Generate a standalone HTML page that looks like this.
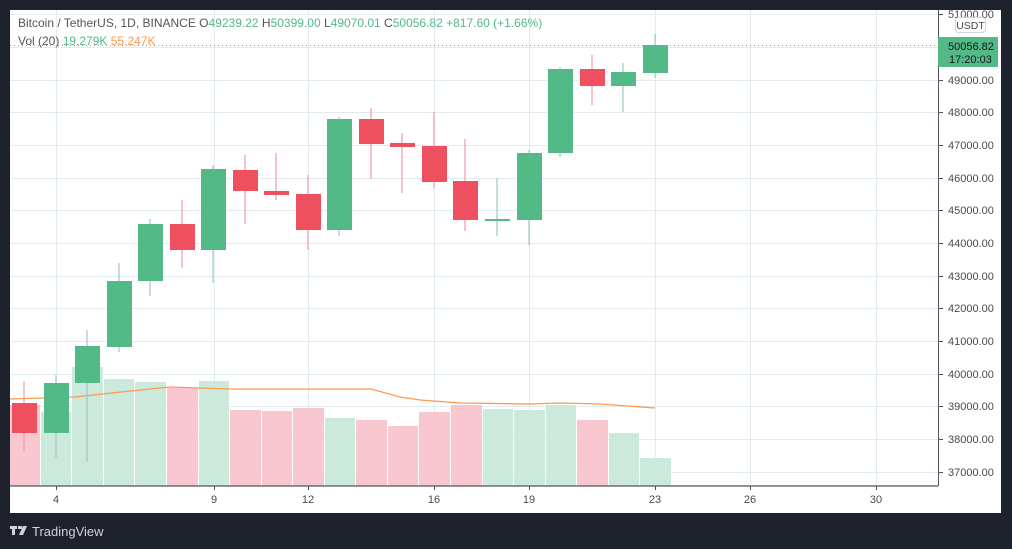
<!DOCTYPE html>
<html><head><style>
html,body{margin:0;padding:0;background:#1e222d;width:1012px;height:549px;overflow:hidden;font-family:"Liberation Sans","DejaVu Sans",sans-serif}
</style></head><body>
<svg width="1012" height="549" xmlns="http://www.w3.org/2000/svg" style="position:absolute;left:0;top:0">
<rect x="0" y="0" width="1012" height="549" fill="#1e222d"/>
<rect x="10" y="10" width="991" height="503" fill="#ffffff"/>
<g stroke="#e1ecf2" stroke-width="1">
<line x1="10" x2="938" y1="14.5" y2="14.5"/><line x1="10" x2="938" y1="47.5" y2="47.5"/><line x1="10" x2="938" y1="80.5" y2="80.5"/><line x1="10" x2="938" y1="112.5" y2="112.5"/><line x1="10" x2="938" y1="145.5" y2="145.5"/><line x1="10" x2="938" y1="178.5" y2="178.5"/><line x1="10" x2="938" y1="210.5" y2="210.5"/><line x1="10" x2="938" y1="243.5" y2="243.5"/><line x1="10" x2="938" y1="276.5" y2="276.5"/><line x1="10" x2="938" y1="308.5" y2="308.5"/><line x1="10" x2="938" y1="341.5" y2="341.5"/><line x1="10" x2="938" y1="374.5" y2="374.5"/><line x1="10" x2="938" y1="406.5" y2="406.5"/><line x1="10" x2="938" y1="439.5" y2="439.5"/><line x1="10" x2="938" y1="472.5" y2="472.5"/>
<line y1="10" y2="486" x1="56.5" x2="56.5"/><line y1="10" y2="486" x1="214.5" x2="214.5"/><line y1="10" y2="486" x1="308.5" x2="308.5"/><line y1="10" y2="486" x1="434.5" x2="434.5"/><line y1="10" y2="486" x1="529.5" x2="529.5"/><line y1="10" y2="486" x1="655.5" x2="655.5"/><line y1="10" y2="486" x1="750.5" x2="750.5"/><line y1="10" y2="486" x1="876.5" x2="876.5"/>
</g>
<!-- volume -->
<g>
<rect x="10" y="405" width="30" height="81" fill="#f8c7cf"/>
<rect x="41" y="412" width="30" height="74" fill="#cbeadb"/>
<rect x="72" y="367" width="31" height="119" fill="#cbeadb"/>
<rect x="104" y="379" width="30" height="107" fill="#cbeadb"/>
<rect x="135" y="382" width="31" height="104" fill="#cbeadb"/>
<rect x="167" y="388" width="31" height="98" fill="#f8c7cf"/>
<rect x="199" y="381" width="30" height="105" fill="#cbeadb"/>
<rect x="230" y="410" width="31" height="76" fill="#f8c7cf"/>
<rect x="262" y="411" width="30" height="75" fill="#f8c7cf"/>
<rect x="293" y="408" width="31" height="78" fill="#f8c7cf"/>
<rect x="325" y="418" width="30" height="68" fill="#cbeadb"/>
<rect x="356" y="420" width="31" height="66" fill="#f8c7cf"/>
<rect x="388" y="426" width="30" height="60" fill="#f8c7cf"/>
<rect x="419" y="412" width="31" height="74" fill="#f8c7cf"/>
<rect x="451" y="405" width="31" height="81" fill="#f8c7cf"/>
<rect x="483" y="409" width="30" height="77" fill="#cbeadb"/>
<rect x="514" y="410" width="31" height="76" fill="#cbeadb"/>
<rect x="546" y="405" width="30" height="81" fill="#cbeadb"/>
<rect x="577" y="420" width="31" height="66" fill="#f8c7cf"/>
<rect x="609" y="433" width="30" height="53" fill="#cbeadb"/>
<rect x="640" y="458" width="31" height="28" fill="#cbeadb"/>
</g>
<polyline fill="none" stroke="#ff9850" stroke-width="1.3" points="10,399 75,397 130,391 170,387 230,389 300,389 371,389 400,397 420,400 460,403 530,404 560,403 600,404 655,408"/>
<!-- current price dotted line -->
<line x1="10" x2="938" y1="45.5" y2="45.5" stroke="#53b987" stroke-width="1" stroke-dasharray="1,3"/>
<!-- candles -->
<g stroke-width="1.2">
<line x1="24" x2="24" y1="381" y2="452" stroke="#f49aa4"/><rect x="12" y="403" width="25" height="30" fill="#ef5060"/>
<line x1="56" x2="56" y1="375" y2="458" stroke="#9cc8c8"/><rect x="44" y="383" width="25" height="50" fill="#53b987"/>
<line x1="87" x2="87" y1="330" y2="462" stroke="#9cc8c8"/><rect x="75" y="346" width="25" height="37" fill="#53b987"/>
<line x1="119" x2="119" y1="263" y2="352" stroke="#9cc8c8"/><rect x="107" y="281" width="25" height="66" fill="#53b987"/>
<line x1="150" x2="150" y1="219" y2="296" stroke="#9cc8c8"/><rect x="138" y="224" width="25" height="57" fill="#53b987"/>
<line x1="182" x2="182" y1="200" y2="268" stroke="#f49aa4"/><rect x="170" y="224" width="25" height="26" fill="#ef5060"/>
<line x1="213" x2="213" y1="165" y2="283" stroke="#9cc8c8"/><rect x="201" y="169" width="25" height="81" fill="#53b987"/>
<line x1="245" x2="245" y1="155" y2="224" stroke="#f49aa4"/><rect x="233" y="170" width="25" height="21" fill="#ef5060"/>
<line x1="276" x2="276" y1="153" y2="200" stroke="#f49aa4"/><rect x="264" y="191" width="25" height="4" fill="#ef5060"/>
<line x1="308" x2="308" y1="175" y2="250" stroke="#f49aa4"/><rect x="296" y="194" width="25" height="36" fill="#ef5060"/>
<line x1="339" x2="339" y1="117" y2="236" stroke="#9cc8c8"/><rect x="327" y="119" width="25" height="111" fill="#53b987"/>
<line x1="371" x2="371" y1="108" y2="179" stroke="#f49aa4"/><rect x="359" y="119" width="25" height="25" fill="#ef5060"/>
<line x1="402" x2="402" y1="133" y2="193" stroke="#f49aa4"/><rect x="390" y="143" width="25" height="4" fill="#ef5060"/>
<line x1="434" x2="434" y1="112" y2="188" stroke="#f49aa4"/><rect x="422" y="146" width="25" height="36" fill="#ef5060"/>
<line x1="465" x2="465" y1="139" y2="231" stroke="#f49aa4"/><rect x="453" y="181" width="25" height="39" fill="#ef5060"/>
<line x1="497" x2="497" y1="178" y2="236" stroke="#9cc8c8"/><rect x="485" y="219" width="25" height="2" fill="#53b987"/>
<line x1="529" x2="529" y1="150" y2="245" stroke="#9cc8c8"/><rect x="517" y="153" width="25" height="67" fill="#53b987"/>
<line x1="560" x2="560" y1="67" y2="157" stroke="#9cc8c8"/><rect x="548" y="69" width="25" height="84" fill="#53b987"/>
<line x1="592" x2="592" y1="55" y2="105" stroke="#f49aa4"/><rect x="580" y="69" width="25" height="17" fill="#ef5060"/>
<line x1="623" x2="623" y1="63" y2="112" stroke="#9cc8c8"/><rect x="611" y="72" width="25" height="14" fill="#53b987"/>
<line x1="655" x2="655" y1="34" y2="78" stroke="#9cc8c8"/><rect x="643" y="45" width="25" height="28" fill="#53b987"/>
</g>
<!-- axes -->
<line x1="938.5" x2="938.5" y1="10" y2="486" stroke="#50535e"/>
<line x1="10" x2="938" y1="486" y2="486" stroke="#50535e" stroke-width="1.2"/>
<g stroke="#50535e"><line x1="56.5" x2="56.5" y1="486" y2="490"/><line x1="214.5" x2="214.5" y1="486" y2="490"/><line x1="308.5" x2="308.5" y1="486" y2="490"/><line x1="434.5" x2="434.5" y1="486" y2="490"/><line x1="529.5" x2="529.5" y1="486" y2="490"/><line x1="655.5" x2="655.5" y1="486" y2="490"/><line x1="750.5" x2="750.5" y1="486" y2="490"/><line x1="876.5" x2="876.5" y1="486" y2="490"/></g>
<g font-size="11" fill="#4a4a4a" text-anchor="middle"><text x="56" y="503">4</text><text x="214" y="503">9</text><text x="308" y="503">12</text><text x="434" y="503">16</text><text x="529" y="503">19</text><text x="655" y="503">23</text><text x="750" y="503">26</text><text x="876" y="503">30</text></g>
<g stroke="#50535e"><line x1="938" x2="943" y1="14.5" y2="14.5"/><line x1="938" x2="943" y1="80.5" y2="80.5"/><line x1="938" x2="943" y1="112.5" y2="112.5"/><line x1="938" x2="943" y1="145.5" y2="145.5"/><line x1="938" x2="943" y1="178.5" y2="178.5"/><line x1="938" x2="943" y1="210.5" y2="210.5"/><line x1="938" x2="943" y1="243.5" y2="243.5"/><line x1="938" x2="943" y1="276.5" y2="276.5"/><line x1="938" x2="943" y1="308.5" y2="308.5"/><line x1="938" x2="943" y1="341.5" y2="341.5"/><line x1="938" x2="943" y1="374.5" y2="374.5"/><line x1="938" x2="943" y1="406.5" y2="406.5"/><line x1="938" x2="943" y1="439.5" y2="439.5"/><line x1="938" x2="943" y1="472.5" y2="472.5"/></g>
<g font-size="11" fill="#4a4a4a"><text x="948" y="18">51000.00</text><text x="948" y="84">49000.00</text><text x="948" y="116">48000.00</text><text x="948" y="149">47000.00</text><text x="948" y="182">46000.00</text><text x="948" y="214">45000.00</text><text x="948" y="247">44000.00</text><text x="948" y="280">43000.00</text><text x="948" y="312">42000.00</text><text x="948" y="345">41000.00</text><text x="948" y="378">40000.00</text><text x="948" y="410">39000.00</text><text x="948" y="443">38000.00</text><text x="948" y="476">37000.00</text></g>
<rect x="955.5" y="17.5" width="30" height="15" rx="3" fill="#fff" stroke="#d0d3da"/>
<text x="970.5" y="29" font-size="10.5" fill="#4a4a4a" text-anchor="middle">USDT</text>
<rect x="938" y="37" width="60" height="30" rx="1" fill="#53b987"/>
<text x="948" y="50" font-size="11" fill="#131722">50056.82</text>
<text x="949" y="63" font-size="11" fill="#131722">17:20:03</text>
<!-- legend -->
<text x="18" y="27" font-size="12" fill="#555"><tspan>Bitcoin / TetherUS, 1D, BINANCE  O</tspan><tspan fill="#53b987">49239.22</tspan><tspan> H</tspan><tspan fill="#53b987">50399.00</tspan><tspan> L</tspan><tspan fill="#53b987">49070.01</tspan><tspan> C</tspan><tspan fill="#53b987">50056.82</tspan><tspan fill="#53b987"> +817.60 (+1.66%)</tspan></text>
<text x="18" y="45" font-size="12" fill="#555"><tspan>Vol (20)  </tspan><tspan fill="#53b987">19.279K</tspan><tspan fill="#ff9850"> 55.247K</tspan></text>
<!-- logo -->
<g fill="#d1d4dc"><rect x="10" y="526" width="7" height="3"/><rect x="12" y="526" width="3" height="9"/><rect x="18" y="526" width="4" height="3"/><path d="M23,526 L27,526 L23,535 L19,535 Z"/></g>
<text x="32" y="536" font-size="13" fill="#d1d4dc">TradingView</text>
</svg>
</body></html>
